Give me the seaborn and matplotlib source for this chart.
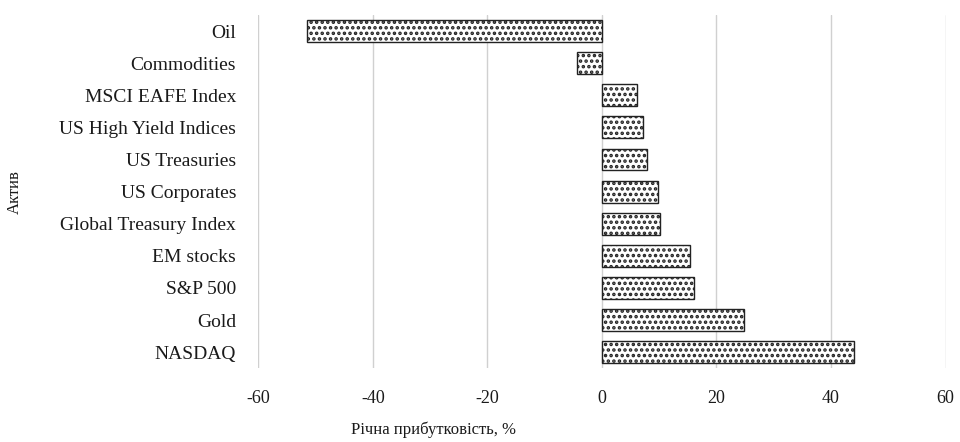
import matplotlib
matplotlib.use("Agg")
import matplotlib.pyplot as plt
import seaborn as sns
import pandas as pd

assets = ["Oil", "Commodities", "MSCI EAFE Index", "US High Yield Indices",
          "US Treasuries", "US Corporates", "Global Treasury Index",
          "EM stocks", "S&P 500", "Gold", "NASDAQ"]
returns = [-51.5, -4.4, 6.2, 7.1, 7.8, 9.8, 10.1, 15.4, 16.1, 24.8, 44.0]
xticks = [-60, -40, -20, 0, 20, 40, 60]

df = pd.DataFrame({"asset": assets, "ret": returns})

sns.set_style("white")
plt.rcParams["font.family"] = ["Liberation Serif", "DejaVu Serif"]
plt.rcParams["hatch.linewidth"] = 1.7
plt.rcParams["hatch.color"] = "black"

fig = plt.figure(figsize=(9.6, 4.42), dpi=100)
ax = fig.add_axes([0.269, 0.167, 0.716, 0.799])

sns.barplot(data=df, x="ret", y="asset", orient="h", color="white",
            edgecolor="#222222", linewidth=1.0, width=0.68, ax=ax)
for p in ax.patches:
    p.set_hatch("...")

ax.set_xlim(-60, 60)
ax.set_xticks(xticks)
ax.set_xticklabels([str(t) for t in xticks])
ax.xaxis.grid(True, color="#d0d0d0", linewidth=1.0)
ax.set_axisbelow(True)
for s in ax.spines.values():
    s.set_visible(False)
ax.tick_params(axis="y", length=0, pad=16, labelsize=14, labelcolor="#1a1a1a")
ax.tick_params(axis="x", length=0, pad=16, labelsize=13, labelcolor="#1a1a1a")
ax.set_xlabel("Річна прибутковість, %", fontsize=12, color="#1a1a1a")
ax.xaxis.set_label_coords(0.255, -0.152)
ax.set_ylabel("Актив", fontsize=12, color="#1a1a1a")
ax.yaxis.set_label_coords(-0.343, 0.5)

fig.savefig("out.png", dpi=100)
